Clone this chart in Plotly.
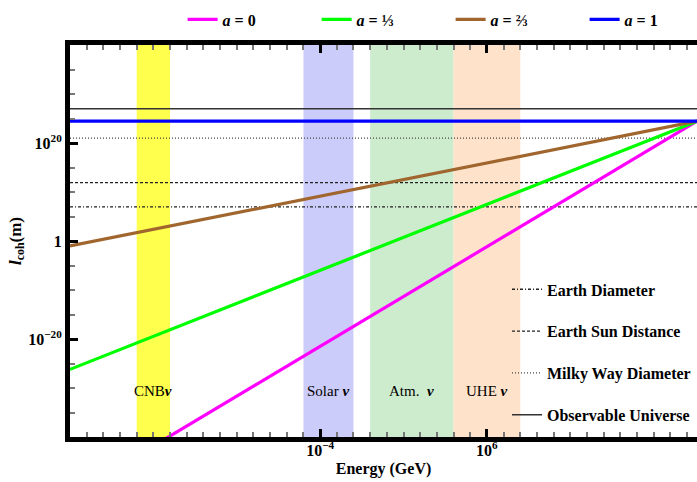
import math
import plotly.graph_objects as go

# ---- data ----
energy_ends = [1e-19, 10**18.6]                      # GeV, plotted energy range
series_labels = ["<i>a</i> = 0", "<i>a</i> = ⅓", "<i>a</i> = ⅔", "<i>a</i> = 1"]
series_colors = ["#FF00FF", "#00FF00", "#A0662E", "#0000FF"]
series_left = [10**-52.0, 10**-26.2, 10**-1.0, 10**24.45]   # l_coh at lowest energy (m)
series_right = [10**24.45, 10**24.45, 10**24.45, 10**24.45]  # l_coh at highest energy (m)

band_labels = ["CNB<b><i>ν</i></b>", "Solar <b><i>ν</i></b>", "Atm.  <b><i>ν</i></b>", "UHE <b><i>ν</i></b>"]
band_lo = [1e-15, 1e-5, 1e-1, 1e4]
band_hi = [1e-13, 1e-2, 1e4, 1e8]
band_colors = ["rgba(255,255,77,1)", "rgba(204,204,250,1)", "rgba(205,235,205,1)", "rgba(254,227,202,1)"]
band_label_y = 10**-30.6

ref_labels = ["Earth Diameter", "Earth Sun Distance", "Milky Way Diameter", "Observable Universe"]
ref_values = [10**6.95, 10**11.9, 10**21.0, 10**27.0]
ref_dashes = ["3px,2px,1px,2px", "3px,2px", "1px,2px", "solid"]
ref_colors = ["#222222", "#222222", "#444444", "#333333"]

y_lo, y_hi = 1e-40, 1e40
x_tickvals = [1e-4, 1e6]
x_ticktext = ["10<sup>−4</sup>", "10<sup>6</sup>"]
y_tickvals = [1e-20, 1, 1e20]
y_ticktext = ["10<sup>−20</sup>", "1", "10<sup>20</sup>"]

SERIF = "Liberation Serif, Times New Roman, serif"

fig = go.Figure()

# energy bands
for lab, lo, hi, col in zip(band_labels, band_lo, band_hi, band_colors):
    fig.add_trace(go.Scatter(
        x=[lo, hi, hi, lo, lo], y=[y_lo, y_lo, y_hi, y_hi, y_lo],
        fill="toself", fillcolor=col, mode="lines", line=dict(width=0, color=col),
        showlegend=False, hoverinfo="skip"))

# reference length scales
for i, (lab, v, d, c) in enumerate(zip(ref_labels, ref_values, ref_dashes, ref_colors)):
    fig.add_trace(go.Scatter(
        x=energy_ends, y=[v, v], mode="lines",
        line=dict(color=c, width=1.3 if d != "solid" else 1.5, dash=d),
        name="<b>" + lab + "</b>", legend="legend2", legendgroup="ref%d" % i))

# coherence length curves
for lab, c, l0, l1 in zip(series_labels, series_colors, series_left, series_right):
    fig.add_trace(go.Scatter(
        x=energy_ends, y=[l0, l1], mode="lines",
        line=dict(color=c, width=3.2), name="<b>" + lab + "</b>", legend="legend"))

# band labels
for lab, lo, hi in zip(band_labels, band_lo, band_hi):
    xc = (math.log10(lo) + math.log10(hi)) / 2
    fig.add_annotation(x=xc, y=math.log10(band_label_y), text=lab, showarrow=False,
                       font=dict(family=SERIF, size=15, color="black"))

fig.update_layout(
    width=697, height=482,
    margin=dict(l=70, r=0, t=45, b=45),
    plot_bgcolor="white", paper_bgcolor="white",
    font=dict(family=SERIF, size=15, color="black"),
    legend=dict(orientation="h", xref="container", yref="container",
                x=0.262, xanchor="left", y=0.995, yanchor="top",
                entrywidth=89, entrywidthmode="pixels",
                font=dict(family=SERIF, size=16, color="black"),
                bgcolor="rgba(0,0,0,0)"),
    legend2=dict(x=0.697, xanchor="left", y=0.42, yanchor="top",
                 tracegroupgap=18,
                 font=dict(family=SERIF, size=16, color="black"),
                 bgcolor="rgba(0,0,0,0)"),
    showlegend=True,
)

fig.update_xaxes(
    type="log", range=[-19, 18.6],
    showline=True, linewidth=5, linecolor="black", mirror="ticks",
    showgrid=False, zeroline=False,
    tickvals=x_tickvals, ticktext=x_ticktext,
    ticks="inside", ticklen=8, tickwidth=3, tickcolor="black",
    ticklabelstandoff=-5,
    tickfont=dict(family=SERIF, size=16, color="black", weight="bold"),
    minor=dict(tickvals=[10.0**k for k in range(-18, 19)], ticks="inside",
               ticklen=5, tickwidth=1.5, tickcolor="#777777", showgrid=False),
    title=dict(text="<b>Energy (GeV)</b>", font=dict(family=SERIF, size=16), standoff=6),
)
fig.update_yaxes(
    type="log", range=[-40, 40],
    showline=True, linewidth=5, linecolor="black", mirror=False,
    showgrid=False, zeroline=False,
    tickvals=y_tickvals, ticktext=y_ticktext,
    ticks="inside", ticklen=8, tickwidth=3, tickcolor="black",
    tickfont=dict(family=SERIF, size=16, color="black", weight="bold"),
    minor=dict(tickvals=[10.0**k for k in range(-35, 40, 5)], ticks="inside",
               ticklen=5, tickwidth=1.5, tickcolor="#777777", showgrid=False),
    title=dict(text="<b><i>l</i><sub>coh</sub>(m)</b>", font=dict(family=SERIF, size=17), standoff=4),
)

fig.write_html("out.html")
